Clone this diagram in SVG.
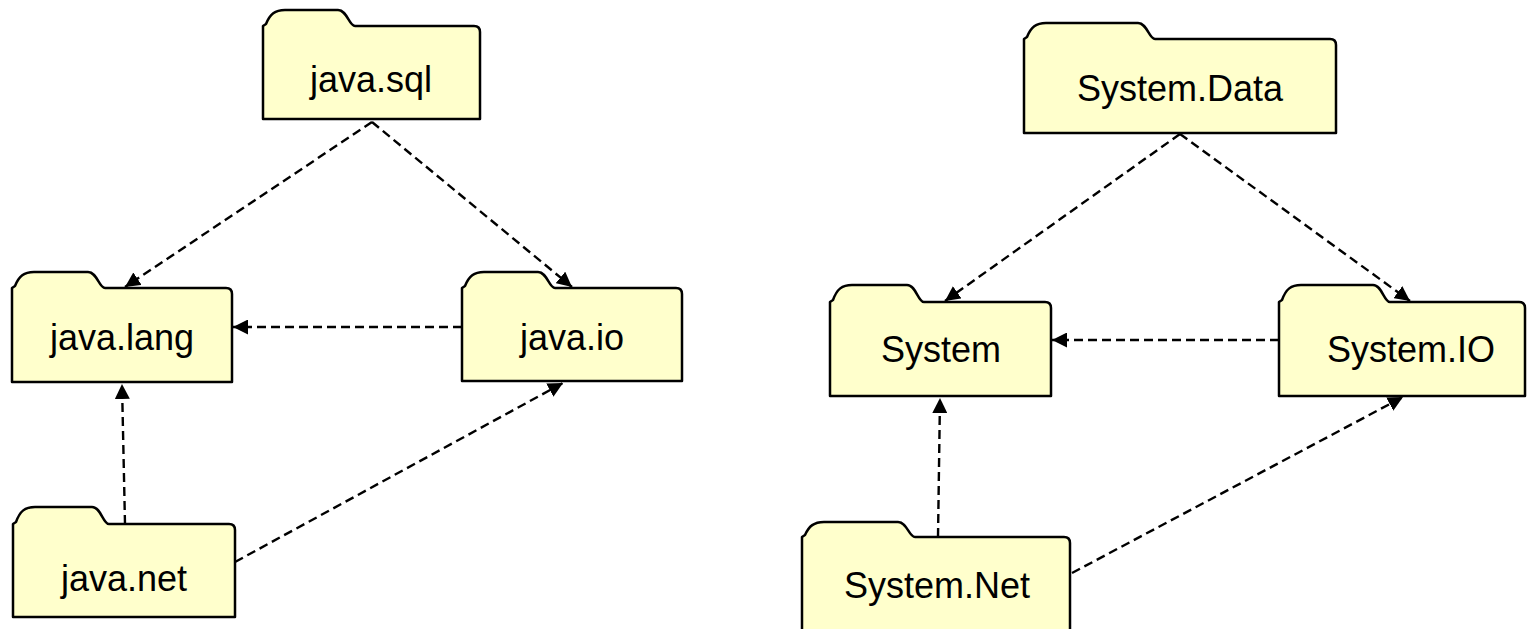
<svg xmlns="http://www.w3.org/2000/svg" width="1530" height="629" viewBox="0 0 1530 629">
  <style>
    .pkg { fill: #FFFFCC; stroke: #000; stroke-width: 2.5; stroke-linejoin: round; }
    .lbl { font-family: "Liberation Sans", Arial, sans-serif; font-size: 36px; fill: #000; text-anchor: middle; }
    .dep { fill: none; stroke: #000; stroke-width: 2.4; stroke-dasharray: 9 5; marker-end: url(#arrow); }
  </style>
  <defs>
    <marker id="arrow" markerUnits="userSpaceOnUse" markerWidth="15" markerHeight="15" refX="15" refY="7.5" orient="auto">
      <path d="M0,0 L15,7.5 L0,15 Z" fill="#000"/>
    </marker>
  </defs>
  <rect width="1530" height="629" fill="#fff"/>

  <!-- Java packages -->
  <g id="java-sql">
    <path class="pkg" d="M263,119 V26 L266,24 C270,14 275,10 285,10 H338 C347,10 349,26 355,26 H474 Q480,26 480,32 V119 Z"/>
    <text class="lbl" x="371" y="92">java.sql</text>
  </g>
  <g id="java-lang">
    <path class="pkg" d="M12,382 V288 L15,286 C19,276 24,272 34,272 H88 C97,272 99,288 105,288 H226 Q232,288 232,294 V382 Z"/>
    <text class="lbl" x="122" y="350">java.lang</text>
  </g>
  <g id="java-io">
    <path class="pkg" d="M462,381 V288 L465,286 C469,276 474,272 484,272 H538 C547,272 549,288 555,288 H676 Q682,288 682,294 V381 Z"/>
    <text class="lbl" x="572" y="350">java.io</text>
  </g>
  <g id="java-net">
    <path class="pkg" d="M13,617 V524 L16,522 C20,511 25,507 35,507 H92 C101,507 103,524 109,524 H229 Q235,524 235,530 V617 Z"/>
    <text class="lbl" x="124" y="591">java.net</text>
  </g>

  <!-- .NET namespaces -->
  <g id="system-data">
    <path class="pkg" d="M1024,133 V39 L1027,37 C1031,27 1036,23 1046,23 H1138 C1147,23 1149,39 1155,39 H1330 Q1336,39 1336,45 V133 Z"/>
    <text class="lbl" x="1180" y="101">System.Data</text>
  </g>
  <g id="system">
    <path class="pkg" d="M830,396 V302 L833,300 C837,289 842,285 852,285 H907 C916,285 918,302 924,302 H1045 Q1051,302 1051,308 V396 Z"/>
    <text class="lbl" x="941" y="362">System</text>
  </g>
  <g id="system-io">
    <path class="pkg" d="M1279,396 V302 L1282,300 C1286,289 1291,285 1301,285 H1373 C1382,285 1384,302 1390,302 H1519 Q1525,302 1525,308 V396 Z"/>
    <text class="lbl" x="1411" y="362">System.IO</text>
  </g>
  <g id="system-net">
    <path class="pkg" d="M802,640 V537 L805,535 C809,526 814,522 824,522 H898 C907,522 909,537 915,537 H1064 Q1070,537 1070,543 V640 Z"/>
    <text class="lbl" x="937" y="598">System.Net</text>
  </g>

  <!-- dependency arrows -->
  <g id="connectors">
    <line class="dep" x1="372" y1="122" x2="125" y2="287"/>
    <line class="dep" x1="372" y1="122" x2="572" y2="287"/>
    <line class="dep" x1="462" y1="327" x2="233" y2="327"/>
    <line class="dep" x1="125" y1="524" x2="122" y2="384"/>
    <line class="dep" x1="235" y1="562" x2="563" y2="383"/>
    <line class="dep" x1="1180" y1="134" x2="945" y2="301"/>
    <line class="dep" x1="1180" y1="134" x2="1410" y2="301"/>
    <line class="dep" x1="1279" y1="340" x2="1052" y2="340"/>
    <line class="dep" x1="938" y1="537" x2="940" y2="398"/>
    <line class="dep" x1="1072" y1="573" x2="1403" y2="397"/>
  </g>
</svg>
